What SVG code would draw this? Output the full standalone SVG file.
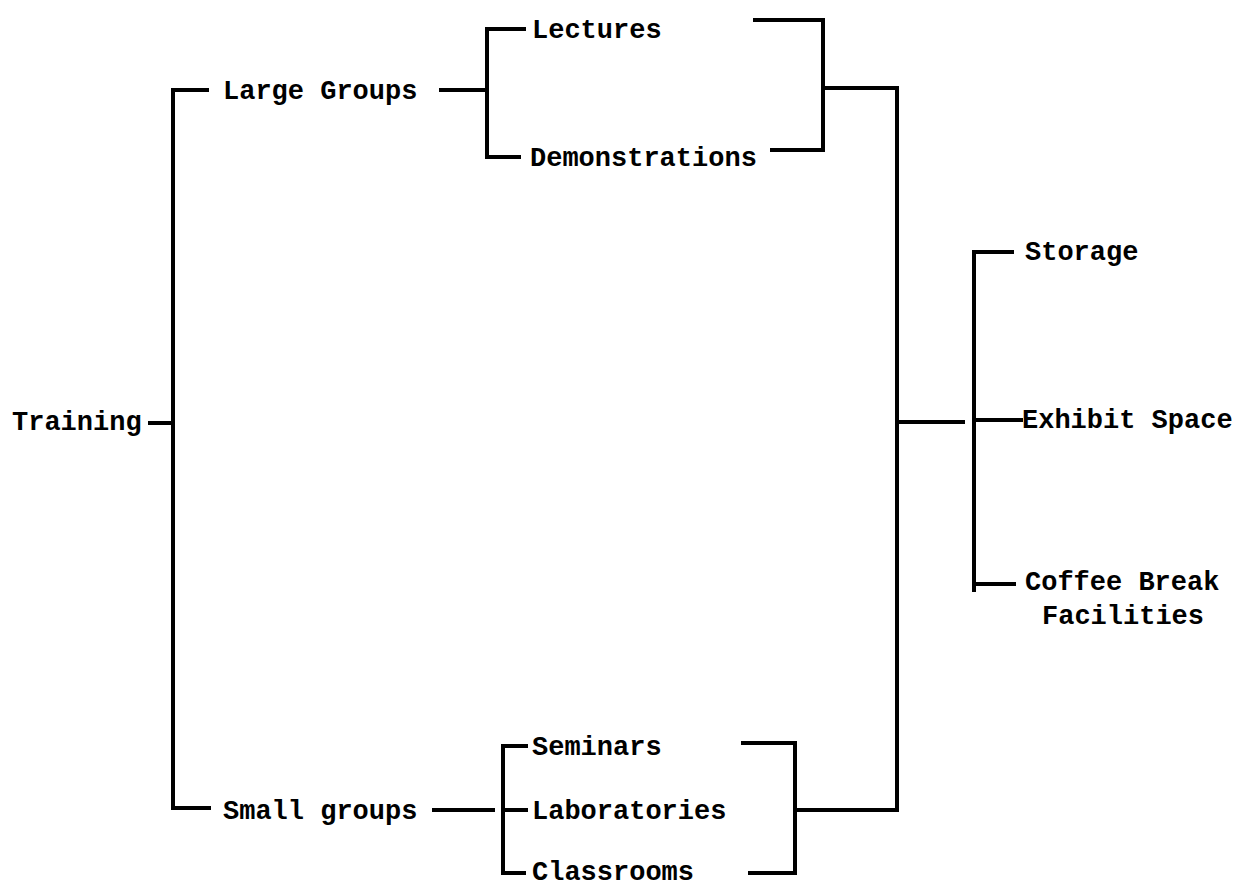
<svg xmlns="http://www.w3.org/2000/svg" width="1238" height="888" viewBox="0 0 1238 888">
<style>
.t{font-family:"Liberation Mono","Courier New",monospace;font-weight:bold;font-size:27px;fill:#000}
.c{fill:none;stroke:#000;stroke-width:4;stroke-linecap:square;stroke-linejoin:miter}
</style>
<rect width="1238" height="888" fill="#fff"/>
<g id="connectors" class="c">
<path d="M150,423 H173"/>
<path d="M207,90 H173 V808 H209"/>
<path d="M441,90 H487"/>
<path d="M524,29 H487 V157 H519"/>
<path d="M755,20 H823 V150 H772"/>
<path d="M823,88 H896"/>
<path d="M897,88 V810"/>
<path d="M434,810 H493"/>
<path d="M526,746 H503 V873 H524"/>
<path d="M503,810 H526"/>
<path d="M743,743 H795 V873 H750"/>
<path d="M795,810 H896"/>
<path d="M899,422 H963"/>
<path d="M1012,252 H974 V590"/>
<path d="M974,420 H1021"/>
<path d="M974,584 H1014"/>
</g>
<g id="training"><text class="t" x="12" y="430">Training</text></g>
<g id="large-groups"><text class="t" x="223" y="99">Large Groups</text></g>
<g id="lectures"><text class="t" x="532" y="38">Lectures</text></g>
<g id="demonstrations"><text class="t" x="530" y="166">Demonstrations</text></g>
<g id="small-groups"><text class="t" x="223" y="819">Small groups</text></g>
<g id="seminars"><text class="t" x="532" y="755">Seminars</text></g>
<g id="laboratories"><text class="t" x="532" y="819">Laboratories</text></g>
<g id="classrooms"><text class="t" x="532" y="880">Classrooms</text></g>
<g id="storage"><text class="t" x="1025" y="260">Storage</text></g>
<g id="exhibit-space"><text class="t" x="1022" y="428">Exhibit Space</text></g>
<g id="coffee-break"><text class="t" x="1025" y="590">Coffee Break</text><text class="t" x="1042" y="624">Facilities</text></g>
</svg>
